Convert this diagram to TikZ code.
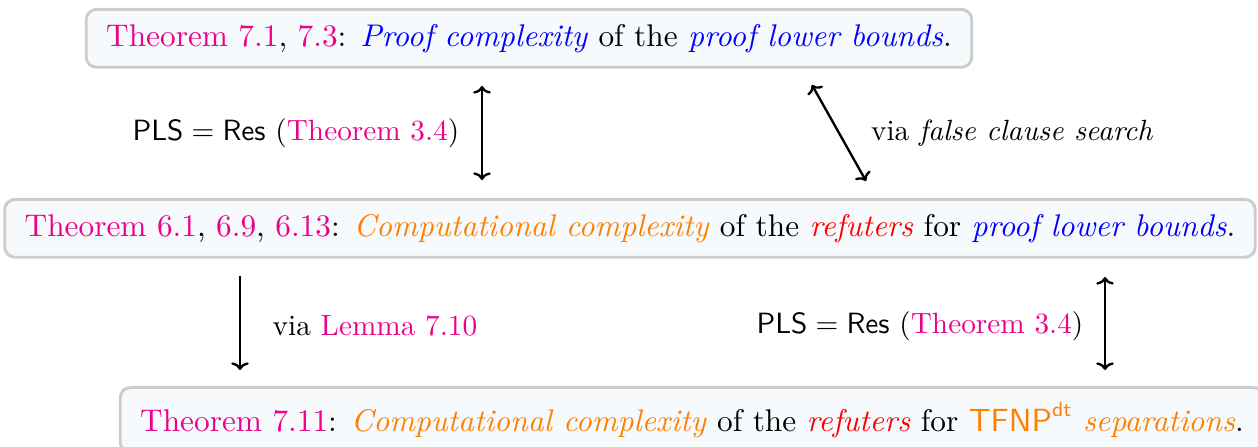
\documentclass[tikz,border=0pt]{standalone}
\usepackage{amsmath}
\usetikzlibrary{calc,arrows.meta}
\definecolor{refc}{RGB}{236,0,140}
\definecolor{orangec}{RGB}{255,128,0}
\definecolor{boxfill}{RGB}{246,250,253}
\definecolor{boxline}{RGB}{204,204,204}
\newcommand{\refn}[1]{\textcolor{refc}{#1}}
\newcommand{\ora}[1]{\textcolor{orangec}{\emph{#1}}}
\newcommand{\blu}[1]{\textcolor{blue}{\emph{#1}}}
\newcommand{\rd}[1]{\textcolor{red}{\emph{#1}}}
\begin{document}
\begin{tikzpicture}[x=0.3415pt,y=-0.3415pt,
  thmbox/.style={draw=boxline, line width=1pt, fill=boxfill, rounded corners=3.5pt,
    inner xsep=6.8pt, inner ysep=5pt, anchor=north, font=\fontsize{10.7}{13}\selectfont},
  conn/.style={thick, >={To[length=2.6pt,width=6pt]}},
  lab/.style={inner sep=0pt}]
\useasboundingbox (0,0) rectangle (1258,447);
\node[thmbox] (top) at (529,8) {\refn{Theorem 7.1}, \refn{7.3}: \blu{Proof complexity} of the \blu{proof lower bounds}.};
\node[thmbox] (mid) at (630,198) {\refn{Theorem 6.1}, \refn{6.9}, \refn{6.13}: \ora{Computational complexity} of the \rd{refuters} for \blu{proof lower bounds}.};
\node[thmbox] (bot) at (692,386) {\refn{Theorem 7.11}: \ora{Computational complexity} of the \rd{refuters} for \textcolor{orangec}{$\mathsf{TFNP}^{\mathsf{dt}}$ \emph{separations}}.};
\coordinate (a1s) at (482,86);
\coordinate (a1e) at (482,180);
\coordinate (a2s) at (812,85);
\coordinate (a2e) at (866,181);
\coordinate (a3s) at (240,276);
\coordinate (a3e) at (240,370);
\coordinate (a4s) at (1105,277);
\coordinate (a4e) at (1105,370);
\draw[conn,<->] (a1s) -- (a1e);
\draw[conn,<->] (a2s) -- (a2e);
\draw[conn,->] (a3s) -- (a3e);
\draw[conn,<->] (a4s) -- (a4e);
\node[lab] (l1) at (296,133) {$\mathsf{PLS}=\mathsf{Res}$ (\refn{Theorem 3.4})};
\node[lab] (l2) at (1012,133) {via \emph{false clause search}};
\node[lab] (l3) at (375,326) {via \refn{Lemma 7.10}};
\node[lab] (l4) at (920,326) {$\mathsf{PLS}=\mathsf{Res}$ (\refn{Theorem 3.4})};
\end{tikzpicture}
\end{document}
